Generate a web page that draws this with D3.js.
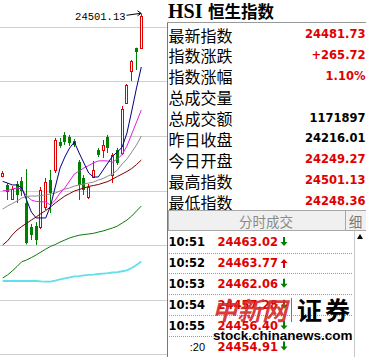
<!DOCTYPE html>
<html><head><meta charset="utf-8">
<script src="https://cdn.jsdelivr.net/npm/d3@7"></script>
<style>html,body{margin:0;padding:0;background:#fff;} svg{display:block;}</style>
</head><body>
<svg id="c" width="366" height="357"></svg>
<script>
// ---- data ----
const openP  = [23313,23248,23145,23255,23277,23116,22941,22948,22941,23087,23284,23357,23561,23613,23598,23569,23415,23299,23160,23306,23503,23503,23598,23320,23503,23481,23846,24080,24250,24249.27];
const highP  = [23350,23262,23240,23277,23306,23364,22963,22977,23233,23299,23357,23591,23591,23634,23613,23583,23430,23320,23255,23423,23518,23576,23613,23481,23518,23824,23985,24160,24250,24501.13];
const lowP   = [23304,23138,23138,23116,23167,22813,22846,22810,22926,23065,23043,23335,23518,23540,23532,23525,23138,23175,23145,23299,23452,23445,23481,23262,23394,23467,23839,24007,24087,24248.36];
const closeP = [23333,23196,23218,23175,23204,22824,22883,22846,23211,23269,23189,23576,23532,23561,23554,23540,23248,23211,23233,23357,23467,23540,23518,23467,23408,23802,23978,24153,24216.01,24481.73];
const ma5   = [23274,23262,23248,23248,23226,23138,23050,23007,23007,23007,23094,23233,23372,23452,23518,23561,23481,23408,23335,23306,23306,23357,23408,23459,23488,23525,23627,23788,23956,24109];
const ma10  = [23206,23207,23218,23226,23218,23167,23138,23127,23126,23123,23102,23138,23189,23226,23277,23328,23350,23372,23390,23410,23423,23425,23423,23415,23437,23470,23532,23620,23707,23795];
const ma20  = [23072,23094,23112,23131,23153,23164,23167,23167,23171,23175,23182,23189,23204,23218,23226,23240,23248,23255,23262,23269,23284,23295,23313,23328,23357,23401,23437,23488,23540,23605];
const ma30  = [22810,22839,22883,22919,22945,22968,22992,23014,23039,23061,23087,23116,23142,23167,23185,23204,23215,23226,23237,23244,23251,23262,23273,23291,23310,23328,23346,23368,23397,23430];
const ma60  = [22569,22591,22620,22653,22688,22700,22718,22737,22758,22780,22799,22813,22831,22846,22861,22872,22881,22886,22890,22895,22904,22912,22923,22934,22948,22970,22992,23021,23058,23094];
const ma120 = [22547,22547,22547,22547,22547,22547,22547,22547,22544,22543,22542,22550,22559,22566,22574,22580,22583,22588,22592,22594,22598,22601,22604,22609,22612,22618,22625,22642,22664,22689];
const priceDomain = [22014, 24401];
const gridCount = 6;
const highLabel = "24501.13";

const titleCode = "HSI";
const titleName = "恒生指数";
const infoLabels = ["最新指数","指数涨跌","指数涨幅","总成交量","总成交额","昨日收盘","今日开盘","最高指数","最低指数"];
const infoValues = ["24481.73","+265.72","1.10%","","1171897","24216.01","24249.27","24501.13","24248.36"];
const tableHeader = "分时成交";
const tableSide = "细";
const tradeTimes  = ["10:51","10:52","10:53","10:54","10:55",":20"];
const tradePrices = ["24463.02","24463.77","24462.06","24457.28","24456.40","24454.91"];
const tradeDirs   = ["down","up","down","down","down","down"];

// ---- drawing ----
const svg = d3.select("#c");
const RED = "#e00000", GREEN = "#008000";
const CJK = "'Noto Sans CJK SC', sans-serif";
const NUM = "'DejaVu Sans', sans-serif";

const idx = d3.range(closeP.length);
const x = d3.scaleLinear().domain([0, closeP.length - 1]).range([2.7, 141.3]);
const y = d3.scaleLinear().domain(priceDomain).range([354, 27]);
const px = i => Math.floor(x(i)) + 0.5;

svg.append("defs").append("clipPath").attr("id","cp").append("rect").attr("x",0).attr("y",0).attr("width",167).attr("height",357);
const chart = svg.append("g").attr("clip-path","url(#cp)");

// grid
const gridVals = d3.range(gridCount + 1).map(k => priceDomain[0] + k*(priceDomain[1]-priceDomain[0])/gridCount);
chart.selectAll("line.grid").data(gridVals).join("line")
  .attr("x1",0).attr("x2",167)
  .attr("y1",d=>Math.round(y(d))+0.5).attr("y2",d=>Math.round(y(d))+0.5)
  .attr("stroke","#cfcfcf").attr("stroke-width",1);

// candles
const cg = chart.append("g");
idx.forEach(i => {
  const up = closeP[i] >= openP[i];
  const cx = px(i);
  if (up) {
    const t = Math.round(y(closeP[i])), b = Math.round(y(openP[i]));
    cg.append("line").attr("x1",cx).attr("x2",cx).attr("y1",y(highP[i])).attr("y2",t).attr("stroke",RED);
    cg.append("line").attr("x1",cx).attr("x2",cx).attr("y1",b+1).attr("y2",y(lowP[i])).attr("stroke",RED);
    cg.append("rect").attr("x",cx-1).attr("y",t+0.5).attr("width",2).attr("height",Math.max(b-t,1))
      .attr("fill","#fff").attr("stroke",RED).attr("stroke-width",1);
  } else {
    const t = Math.round(y(openP[i])), b = Math.round(y(closeP[i]));
    cg.append("line").attr("x1",cx).attr("x2",cx).attr("y1",y(highP[i])).attr("y2",y(lowP[i])).attr("stroke",GREEN);
    cg.append("rect").attr("x",cx-1.5).attr("y",t).attr("width",3).attr("height",Math.max(b-t,1)).attr("fill",GREEN);
  }
});

// moving averages
const mas = [
  {v: ma120, c: "#5fe0ea", w: 1.8},
  {v: ma60,  c: "#0a7a0a", w: 1},
  {v: ma30,  c: "#7a0000", w: 1},
  {v: ma20,  c: "#8c8c8c", w: 1},
  {v: ma10,  c: "#e020e0", w: 1},
  {v: ma5,   c: "#000080", w: 1}
];
const line = d3.line().x((d,i)=>x(i)).y(d=>y(d));
chart.selectAll("path.ma").data(mas).join("path")
  .attr("d",d=>line(d.v)).attr("fill","none").attr("stroke",d=>d.c).attr("stroke-width",d=>d.w);

// high annotation
const hi = closeP.length - 1;
const hx = px(hi), hy = y(highP[hi]);
svg.append("text").attr("x",hx-16).attr("y",hy+6.5).attr("text-anchor","end")
  .attr("font-family","'Liberation Mono', monospace").attr("font-size",10.5).attr("fill","#000").text(highLabel);
svg.append("line").attr("x1",hx-15).attr("y1",hy+2).attr("x2",hx-0.5).attr("y2",hy).attr("stroke","#000");
svg.append("path").attr("d",`M${hx-4},${hy-2.5} L${hx-0.5},${hy} L${hx-4},${hy+2.5}`).attr("fill","none").attr("stroke","#000");

// ---- right panel ----
svg.append("line").attr("x1",167.5).attr("x2",167.5).attr("y1",22).attr("y2",357).attr("stroke","#777");
svg.append("line").attr("x1",167).attr("x2",366).attr("y1",22.5).attr("y2",22.5).attr("stroke","#999");
svg.append("text").attr("x",168).attr("y",18).attr("font-family","'Liberation Serif', serif").attr("font-weight","bold")
  .attr("font-size",20).text(titleCode);
svg.append("text").attr("x",208).attr("y",17.5).attr("font-family",CJK).attr("font-weight","bold")
  .attr("font-size",16.5).text(titleName);

const blackRows = new Set(["总成交额","昨日收盘"]);
const rowY = i => 33.5 + 20.95*i;
svg.selectAll("text.lab").data(infoLabels).join("text")
  .attr("x",168.5).attr("y",(d,i)=>rowY(i)+1).attr("dominant-baseline","central")
  .attr("font-family",CJK).attr("font-size",16).attr("fill","#000").text(d=>d);
svg.selectAll("text.val").data(infoValues).join("text")
  .attr("x",365.5).attr("y",(d,i)=>rowY(i)+4.2).attr("text-anchor","end")
  .attr("font-family",NUM).attr("font-weight","bold").attr("font-size",11.5)
  .attr("fill",(d,i)=>blackRows.has(infoLabels[i]) ? "#000" : RED).text(d=>d);

// table header
svg.append("rect").attr("x",168.5).attr("y",210.5).attr("width",177).attr("height",20).attr("fill","#f0f0f0").attr("stroke","#a8a8a8");
svg.append("rect").attr("x",345.5).attr("y",210.5).attr("width",21).attr("height",20).attr("fill","#f0f0f0").attr("stroke","#a8a8a8");
svg.append("text").attr("x",266).attr("y",221).attr("text-anchor","middle").attr("dominant-baseline","central")
  .attr("font-family",CJK).attr("font-size",13.5).attr("fill","#8a8a8a").text(tableHeader);
svg.append("text").attr("x",355.5).attr("y",221).attr("text-anchor","middle").attr("dominant-baseline","central")
  .attr("font-family",CJK).attr("font-size",13.5).attr("fill","#777").text(tableSide);
svg.append("line").attr("x1",354.5).attr("x2",354.5).attr("y1",231).attr("y2",357).attr("stroke","#c8c8c8");
svg.append("path").attr("d","M357,239 L360,234 L363,239 Z").attr("fill","#000");

const tRow = i => 242 + 20.9*i;
tradeTimes.forEach((t,i) => {
  const short = t.startsWith(":");
  svg.append("text").attr("x",205).attr("y",tRow(i)+4.3).attr("text-anchor","end")
    .attr("font-family",short ? "'Liberation Sans', sans-serif" : NUM).attr("font-weight",short?"normal":"bold")
    .attr("font-size",short?11:11.5).attr("fill","#000").text(t);
  svg.append("text").attr("x",278).attr("y",tRow(i)+4.3).attr("text-anchor","end")
    .attr("font-family",NUM).attr("font-weight","bold").attr("font-size",11.5).attr("fill",RED).text(tradePrices[i]);
  const ax = 284, ay = tRow(i);
  const dn = tradeDirs[i] === "down";
  const col = dn ? GREEN : RED;
  const p = dn
    ? `M${ax-1},${ay-5} h2 v5 h2.5 L${ax},${ay+4} L${ax-3.5},${ay} h2.5 Z`
    : `M${ax-1},${ay+5} h2 v-5 h2.5 L${ax},${ay-4} L${ax-3.5},${ay} h2.5 Z`;
  svg.append("path").attr("d",p).attr("fill",col);
  if (i < tradeTimes.length - 1) {
    svg.append("line").attr("x1",169).attr("x2",353).attr("y1",Math.round(tRow(i)+10.5)+0.5).attr("y2",Math.round(tRow(i)+10.5)+0.5)
      .attr("stroke","#999").attr("stroke-dasharray","1,1");
  }
});

// watermark
const wm = svg.append("g");
wm.append("text").attr("x",212).attr("y",320).attr("font-family",CJK).attr("font-weight","bold")
  .attr("font-size",25).attr("fill","#d42a2a").attr("fill-opacity",0.92).attr("font-style","italic").attr("letter-spacing",0).text("中新网");
wm.append("line").attr("x1",291.5).attr("x2",291.5).attr("y1",298).attr("y2",322).attr("stroke","#777");
wm.append("text").attr("x",297).attr("y",320).attr("font-family",CJK).attr("font-weight","bold")
  .attr("font-size",25).attr("fill","#000").attr("letter-spacing",3).text("证券");
wm.append("text").attr("x",213).attr("y",340).attr("font-family","'Liberation Sans', sans-serif").attr("font-weight","bold")
  .attr("font-size",13.5).attr("fill","#000").attr("stroke","#fff").attr("stroke-width",1.5).attr("paint-order","stroke")
  .text("stock.chinanews.com");
</script>
</body></html>
